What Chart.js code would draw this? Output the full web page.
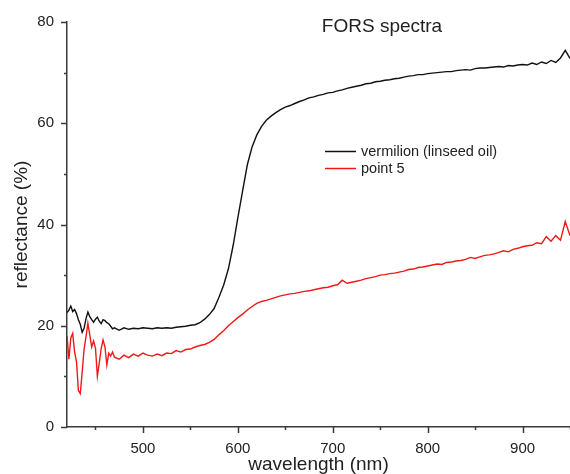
<!DOCTYPE html>
<html>
<head>
<meta charset="utf-8">
<script src="https://cdn.jsdelivr.net/npm/chart.js@4.4.1/dist/chart.umd.min.js"></script>
<style>
  html, body { margin: 0; padding: 0; background: #fff; }
  canvas { display: block; }
</style>
</head>
<body>
<canvas id="fors-chart" width="570" height="474"></canvas>
<script>
// wavelength (nm), 2 nm steps in the noisy start, 5 nm after that
const wavelength = [
  420, 422, 424, 426, 428, 430, 432, 434, 436, 438, 440, 442, 444,
  446, 448, 450, 452, 454, 456, 458, 460, 462, 464, 466, 468, 470,
  475, 480, 485, 490, 495, 500, 505, 510, 515, 520,
  525, 530, 535, 540, 545, 550, 555, 560, 565, 570,
  575, 580, 585, 590, 595, 600, 605, 610, 615, 620,
  625, 630, 635, 640, 645, 650, 655, 660, 665, 670,
  675, 680, 685, 690, 695, 700, 705, 710, 715, 720,
  725, 730, 735, 740, 745, 750, 755, 760, 765, 770,
  775, 780, 785, 790, 795, 800, 805, 810, 815, 820,
  825, 830, 835, 840, 845, 850, 855, 860, 865, 870,
  875, 880, 885, 890, 895, 900, 905, 910, 915, 920,
  925, 930, 935, 940, 945, 950
]

// reflectance (%)
const vermilion = [
  22.6, 23.1, 23.9, 22.8, 23.2, 22.4, 21.2, 20.3, 18.7, 19.5, 21.4, 22.7, 21.8,
  21.2, 20.7, 21.3, 21.7, 20.9, 20.4, 21.2, 21.0, 20.6, 20.4, 19.9, 19.4, 19.6,
  19.1, 19.6, 19.3, 19.5, 19.4, 19.6, 19.5, 19.4, 19.6, 19.5,
  19.6, 19.5, 19.7, 19.8, 19.9, 20.1, 20.2, 20.6, 21.3, 22.2,
  23.4, 25.6, 28.0, 31.2, 35.8, 41.3, 46.6, 51.8, 55.3, 57.7,
  59.4, 60.6, 61.4, 62.1, 62.7, 63.2, 63.5, 63.9, 64.3, 64.6,
  65.0, 65.2, 65.5, 65.7, 66.0, 66.1, 66.4, 66.6, 66.9, 67.1,
  67.3, 67.5, 67.8, 67.9, 68.2, 68.3, 68.5, 68.6, 68.8, 68.9,
  69.1, 69.3, 69.4, 69.6, 69.6, 69.8, 69.9, 70.0, 70.1, 70.2,
  70.2, 70.4, 70.5, 70.6, 70.5, 70.8, 70.9, 70.9, 71.0, 71.1,
  71.2, 71.1, 71.4, 71.3, 71.5, 71.6, 71.5, 71.9, 71.6, 72.1,
  71.8, 72.4, 72.0, 72.9, 74.4, 72.8
]

const point5 = [
  18.0, 13.4, 17.6, 18.5, 14.8, 12.9, 7.2, 6.6, 10.8, 15.4, 17.8, 20.5, 18.2,
  15.8, 17.0, 15.6, 10.0, 12.6, 15.5, 17.2, 15.8, 12.3, 14.6, 14.0, 14.8, 13.8,
  13.4, 14.2, 13.7, 14.4, 14.0, 14.6, 14.2, 14.0, 14.4, 14.1,
  14.6, 14.5, 15.1, 14.8, 15.3, 15.4, 15.8, 16.1, 16.3, 16.7,
  17.3, 18.2, 19.0, 20.0, 20.8, 21.6, 22.3, 23.1, 23.8, 24.4,
  24.8, 25.0, 25.3, 25.6, 25.9, 26.1, 26.3, 26.4, 26.6, 26.8,
  26.9, 27.1, 27.3, 27.5, 27.6, 27.9, 28.1, 29.0, 28.4, 28.6,
  28.8, 29.0, 29.3, 29.5, 29.7, 30.0, 30.1, 30.3, 30.4, 30.6,
  30.8, 31.1, 31.2, 31.5, 31.6, 31.8, 32.0, 32.2, 32.1, 32.5,
  32.6, 32.8, 32.9, 33.1, 33.5, 33.3, 33.6, 33.9, 34.0, 34.2,
  34.5, 34.8, 34.6, 35.1, 35.3, 35.6, 35.8, 35.9, 36.4, 36.2,
  37.6, 36.7, 37.8, 36.9, 40.6, 37.8
]

const seriesNames = ['vermilion (linseed oil)', 'point 5']
const xTicks = [450, 500, 550, 600, 650, 700, 750, 800, 850, 900, 950]
const xLabelled = [500, 600, 700, 800, 900]
const yTicks = [0, 10, 20, 30, 40, 50, 60, 70, 80]
const yLabelled = [0, 20, 40, 60, 80]

const FONT = "'Liberation Sans', Arial, sans-serif"
const AXIS_COLOR = '#3a3a3a'

function toPoints(ys) {
  return wavelength.map((x, i) => ({ x: x, y: ys[i] }))
}

// ticks pointing outward, long on labelled values, short otherwise
const tickMarks = {
  id: 'tickMarks',
  afterDraw(chart) {
    const ctx = chart.ctx
    const xs = chart.scales.x
    const ys = chart.scales.y
    ctx.save()
    ctx.strokeStyle = AXIS_COLOR
    ctx.lineWidth = 1.5
    ctx.beginPath()
    xs.ticks.forEach(t => {
      const px = Math.round(xs.getPixelForValue(t.value)) + 0.5
      const len = xLabelled.includes(t.value) ? 6 : 3
      ctx.moveTo(px, xs.top)
      ctx.lineTo(px, xs.top + len)
    })
    ys.ticks.forEach(t => {
      const py = Math.round(ys.getPixelForValue(t.value)) + 0.5
      const len = yLabelled.includes(t.value) ? 6 : 3
      ctx.moveTo(ys.right, py)
      ctx.lineTo(ys.right - len, py)
    })
    ctx.stroke()
    ctx.restore()
  }
}

// title and legend sit inside the plot
const insideText = {
  id: 'insideText',
  afterDraw(chart) {
    const ctx = chart.ctx
    ctx.save()
    ctx.fillStyle = '#222'
    ctx.textBaseline = 'middle'
    ctx.textAlign = 'center'
    ctx.font = '19px ' + FONT
    ctx.fillText('FORS spectra', 382, 27)

    ctx.textAlign = 'left'
    ctx.font = '14.5px ' + FONT
    chart.data.datasets.forEach((ds, i) => {
      const y = 151.5 + i * 17
      ctx.strokeStyle = ds.borderColor
      ctx.lineWidth = 1.5
      ctx.beginPath()
      ctx.moveTo(325, y)
      ctx.lineTo(356, y)
      ctx.stroke()
      ctx.fillText(ds.label, 361, y)
    })
    ctx.restore()
  }
}

const data = {
  datasets: [
    {
      label: seriesNames[0],
      data: toPoints(vermilion),
      borderColor: '#111111',
      borderWidth: 1.4,
      pointRadius: 0,
      tension: 0
    },
    {
      label: seriesNames[1],
      data: toPoints(point5),
      borderColor: '#f01818',
      borderWidth: 1.4,
      pointRadius: 0,
      tension: 0
    }
  ]
}

const config = {
  type: 'line',
  data: data,
  options: {
    responsive: false,
    animation: false,
    layout: { padding: { top: 20, right: 0, left: 0, bottom: 0 } },
    plugins: {
      legend: { display: false },
      tooltip: { enabled: false }
    },
    scales: {
      x: {
        type: 'linear',
        min: 420,
        max: 950,
        afterBuildTicks: scale => { scale.ticks = xTicks.map(v => ({ value: v })) },
        afterFit: scale => {
          scale.height = 47
          scale.paddingLeft = 0
          scale.paddingRight = 0
        },
        grid: { display: false, drawTicks: false },
        border: { display: true, color: AXIS_COLOR, width: 1.5 },
        ticks: {
          autoSkip: false,
          maxRotation: 0,
          padding: 13,
          color: '#222',
          font: { family: FONT, size: 15 },
          callback: v => xLabelled.includes(v) ? String(v) : ''
        },
        title: {
          display: true,
          text: 'wavelength (nm)',
          color: '#222',
          font: { family: FONT, size: 19, lineHeight: 1 },
          padding: { top: 0, bottom: 0 }
        }
      },
      y: {
        type: 'linear',
        min: 0,
        max: 80,
        afterBuildTicks: scale => { scale.ticks = yTicks.map(v => ({ value: v })) },
        afterFit: scale => { scale.width = 67 },
        grid: { display: false, drawTicks: false },
        border: { display: true, color: AXIS_COLOR, width: 1.5 },
        ticks: {
          autoSkip: false,
          padding: 13,
          color: '#222',
          font: { family: FONT, size: 15 },
          callback: v => yLabelled.includes(v) ? String(v) : ''
        },
        title: {
          display: true,
          text: 'reflectance (%)',
          color: '#222',
          font: { family: FONT, size: 19, lineHeight: 1 },
          padding: { top: 12, bottom: 0 }
        }
      }
    }
  },
  plugins: [tickMarks, insideText]
}

new Chart(document.getElementById('fors-chart'), config)
</script>
</body>
</html>
